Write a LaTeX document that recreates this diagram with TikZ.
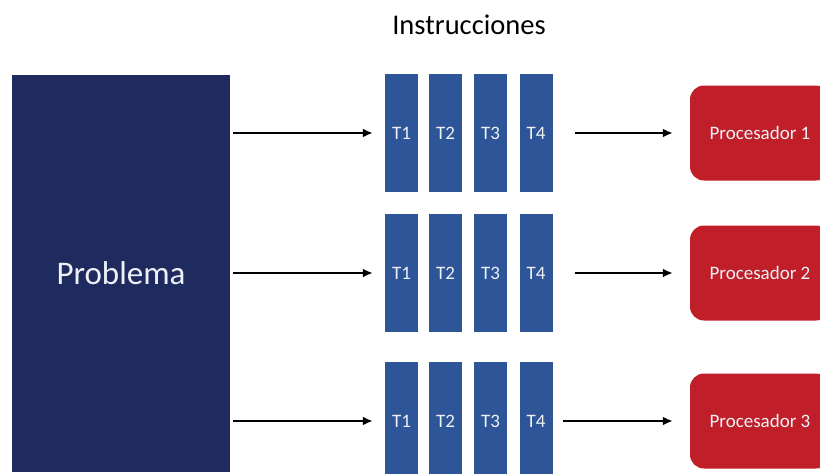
\documentclass[tikz,border=0pt]{standalone}
\usepackage{fontspec}
\setmainfont{Carlito}
\usepackage{tikz}
\usetikzlibrary{positioning,calc,arrows.meta}

\definecolor{azulosc}{HTML}{1F2A5E}
\definecolor{azul}{HTML}{2E5597}
\definecolor{rojo}{HTML}{C01F2A}
\definecolor{letra}{HTML}{EEF2F7}

\tikzset{
  problema/.style={fill=azulosc, minimum width=218pt, minimum height=397pt, inner sep=0pt,
    text=letra, font=\fontsize{33}{36}\selectfont},
  tarea/.style={fill=azul, minimum width=33pt, minimum height=118pt, inner sep=0pt,
    text=letra, font=\fontsize{19}{21}\selectfont},
  proc/.style={fill=rojo, rounded corners=14pt, minimum width=140pt, minimum height=95pt,
    inner sep=0pt, text=letra, font=\fontsize{19}{21}\selectfont},
  flecha/.style={line width=2.6pt, -{Latex[length=10pt,width=9pt]}}
}

\begin{document}
\begin{tikzpicture}[x=1pt,y=-1pt]
  \useasboundingbox (0,0) rectangle (820,474);
  \node[font=\fontsize{28.5}{32}\selectfont] (titulo) at (469,25) {Instrucciones};
  \node[problema] (prob) at (121,273.5) {Problema};

  \foreach \f/\y/\g in {1/133/22,2/273/22,3/421/10} {
    \foreach \c/\x in {1/401.5,2/445.5,3/490.5,4/536} {
      \node[tarea] (t\f\c) at (\x,\y) {T\c};
    }
    \node[proc] (p\f) at (760,\y) {Procesador \f};
    \draw[flecha, shorten <=3pt, shorten >=12pt] (prob.east |- t\f1) -- (t\f1.west);
    \draw[flecha, shorten <=\g pt, shorten >=17pt] (t\f4.east) -- (t\f4.east -| p\f.west);
  }
\end{tikzpicture}
\end{document}
